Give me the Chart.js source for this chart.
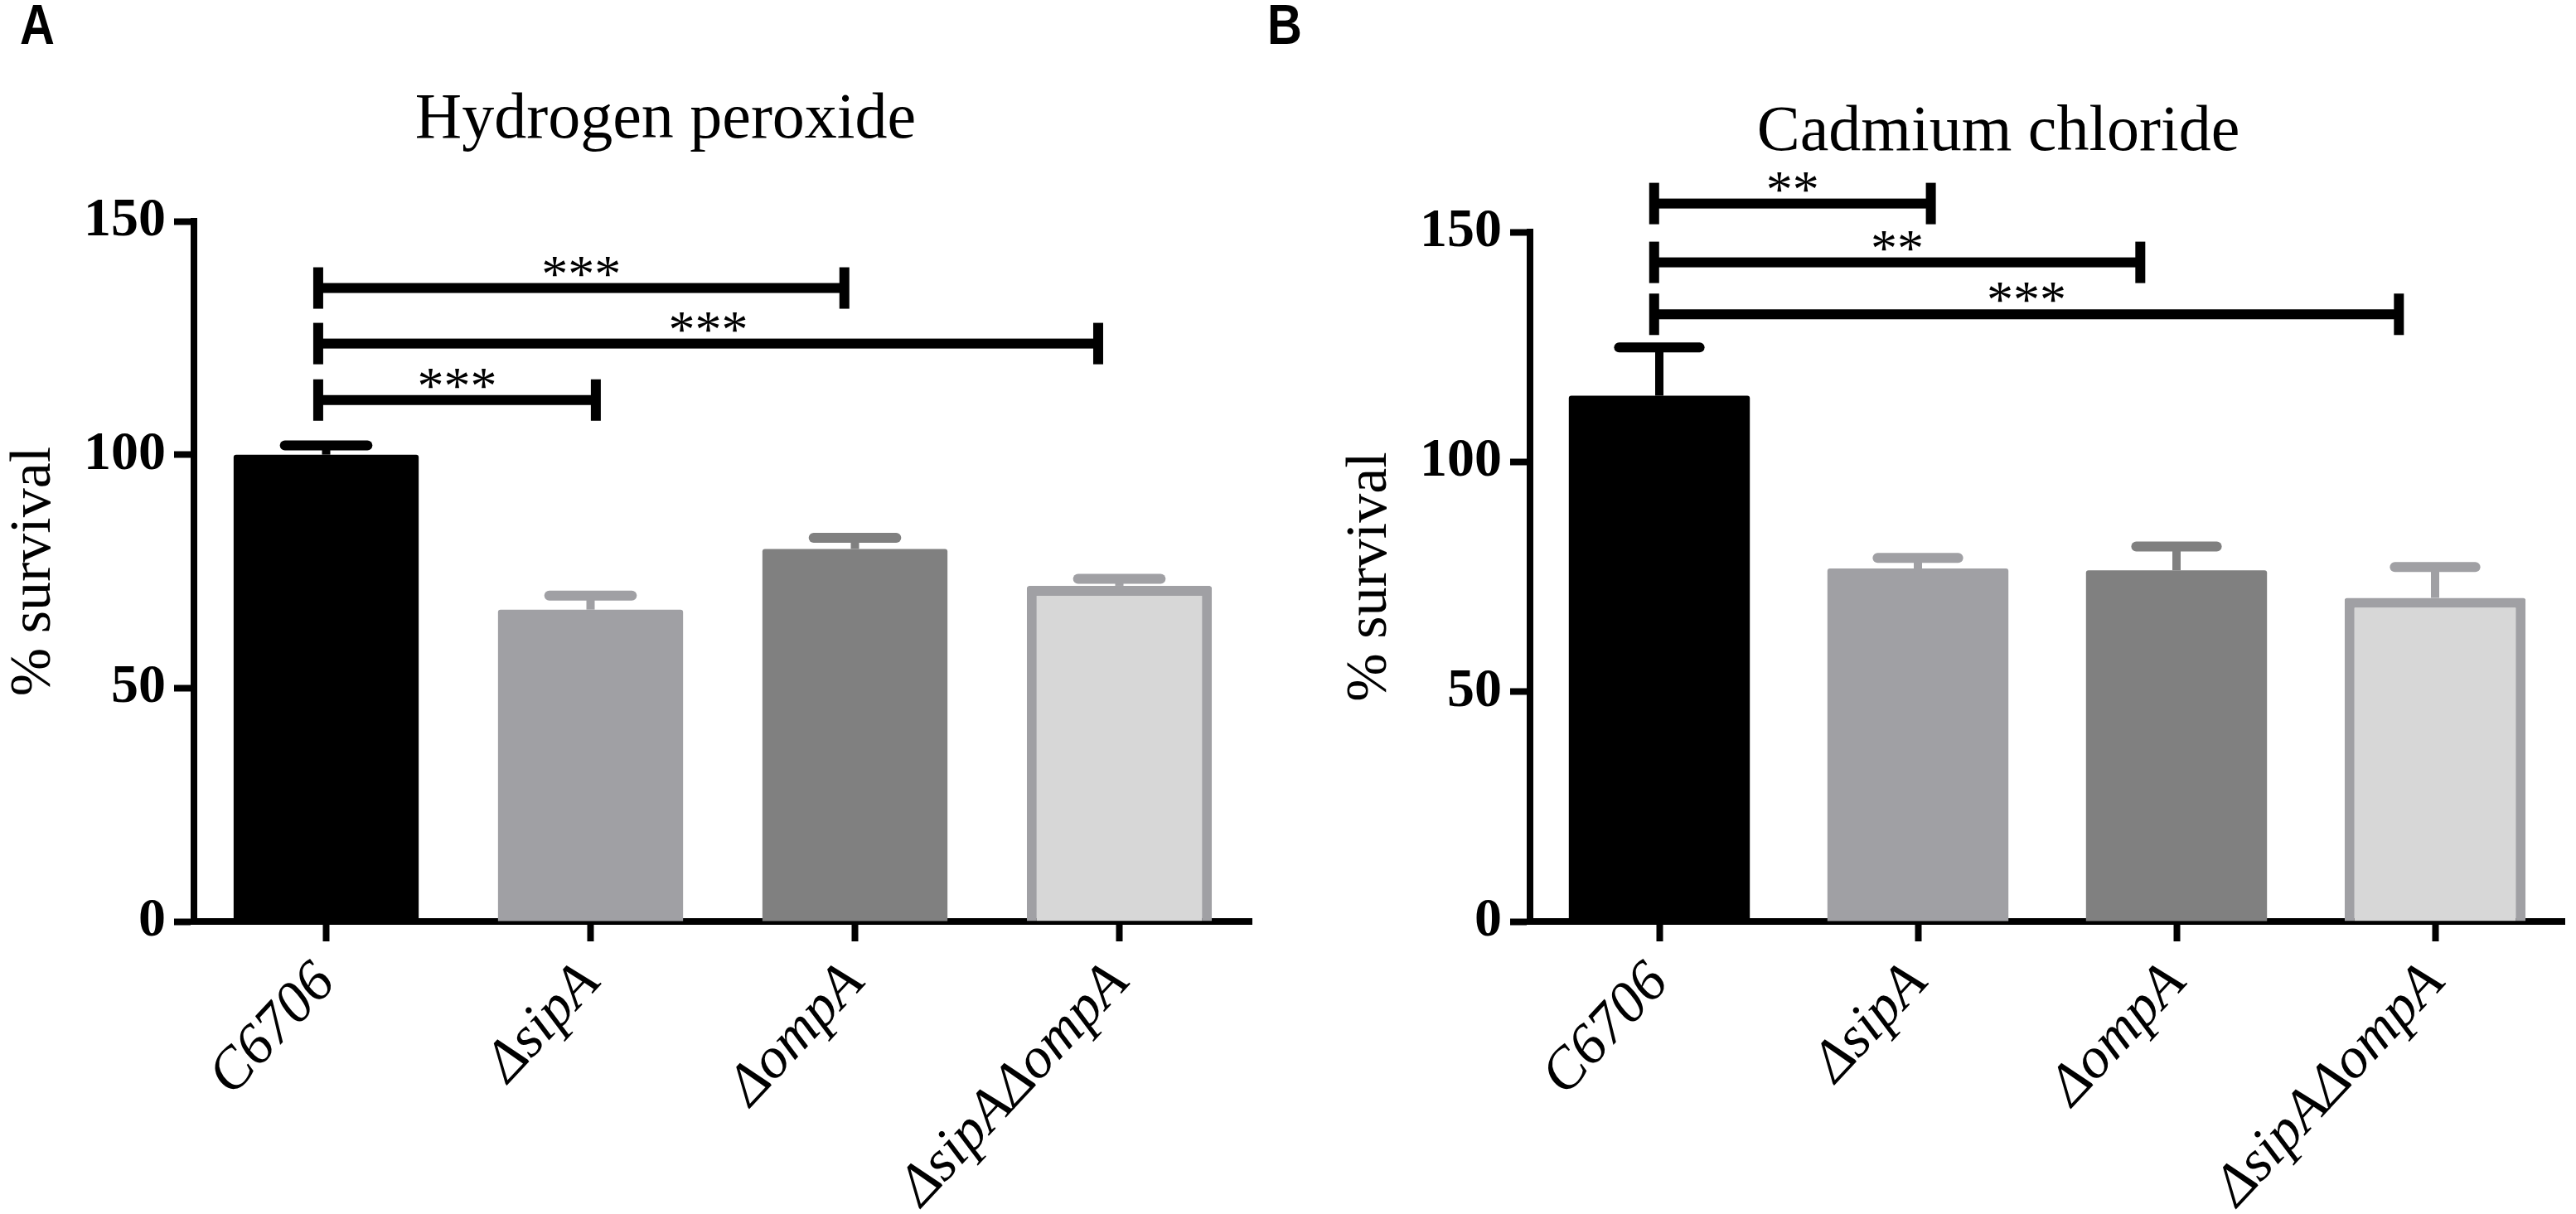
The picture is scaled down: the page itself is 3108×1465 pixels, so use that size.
<!DOCTYPE html>
<html>
<head>
<meta charset="utf-8">
<script src="https://cdn.jsdelivr.net/npm/chart.js@4.4.0/dist/chart.umd.min.js"></script>
<style>
    body { margin: 0; width: 3108px; height: 1465px; overflow: hidden; background: #fff; position: relative; }
    .panel { position: absolute; top: 0; height: 1465px; }
    .tag { position: absolute; font: bold 58px "Liberation Sans", Arial, sans-serif; line-height: 1; transform: scaleY(1.18); transform-origin: top left; }
    .heading { position: absolute; width: 1000px; text-align: center; font: 78px "Liberation Serif", "Times New Roman", serif; line-height: 1; }
</style>
</head>
<body>

<div class="tag" style="left:24px; top:-5px;">A</div>
<div class="tag" style="left:1529px; top:-5px;">B</div>

<div class="heading" style="left:303px; top:101px;">Hydrogen peroxide</div>
<div class="heading" style="left:1911px; top:116px;">Cadmium chloride</div>

<div class="panel" style="left:0; width:1554px;"><canvas id="chartA"></canvas></div>
<div class="panel" style="left:1612px; width:1496px;"><canvas id="chartB"></canvas></div>

<script>
// =============================
// Data
// =============================

const strains = ["C6706", "ΔsipA", "ΔompA", "ΔsipAΔompA"];
const yTicks = [0, 50, 100, 150];

const peroxideMean = [100, 66.8, 79.8, 71.9];
const peroxideErr = [2, 3, 2.4, 1.5];

const cadmiumMean = [114.4, 76.8, 76.4, 70.4];
const cadmiumErr = [10.5, 2.3, 5.2, 6.7];

// significance brackets: x in category units, y in % survival
const peroxideSigFrom = [-0.03, -0.03, -0.03];
const peroxideSigTo = [1.96, 2.92, 1.02];
const peroxideSigY = [135.7, 123.8, 111.7];
const peroxideSigText = ["***", "***", "***"];

const cadmiumSigFrom = [-0.02, -0.02, -0.02];
const cadmiumSigTo = [1.05, 1.86, 2.86];
const cadmiumSigY = [156.2, 143.4, 132.1];
const cadmiumSigText = ["**", "**", "***"];

// styles
const fillColors = ["#000000", "#a0a0a4", "#808080", "#d7d7d7"];
const edgeColors = ["#000000", "#a0a0a4", "#808080", "#a0a0a4"];
const edgeWidths = [0, 0, 0, 12];
const serif = "'Liberation Serif', 'Times New Roman', serif";


// =============================
// Plugins
// =============================

function errorBars(mean, err) {

    return {
        id: "errorBars",
        afterDatasetsDraw(chart) {
            const ctx = chart.ctx;
            const yScale = chart.scales.y;
            const meta = chart.getDatasetMeta(0);

            ctx.save();
            meta.data.forEach((bar, i) => {
                const top = yScale.getPixelForValue(mean[i] + err[i]);
                const half = bar.width / 4 - 6;

                ctx.strokeStyle = edgeColors[i];
                ctx.lineWidth = 10;
                ctx.lineCap = "butt";
                ctx.beginPath();
                ctx.moveTo(bar.x, bar.y);
                ctx.lineTo(bar.x, top);
                ctx.stroke();

                ctx.lineWidth = 12;
                ctx.lineCap = "round";
                ctx.beginPath();
                ctx.moveTo(bar.x - half, top);
                ctx.lineTo(bar.x + half, top);
                ctx.stroke();
            });
            ctx.restore();
        }
    };

}

function brackets(from, to, level, text) {

    return {
        id: "brackets",
        afterDraw(chart) {
            const ctx = chart.ctx;
            const xs = chart.scales.x;
            const ys = chart.scales.y;

            ctx.save();
            ctx.fillStyle = "#000";
            ctx.font = "64px " + serif;
            ctx.textAlign = "center";
            ctx.textBaseline = "alphabetic";

            from.forEach((f, i) => {
                const x1 = xs.getPixelForValue(f);
                const x2 = xs.getPixelForValue(to[i]);
                const y = ys.getPixelForValue(level[i]);

                ctx.fillRect(x1, y - 6, x2 - x1, 12);
                ctx.fillRect(x1 - 6, y - 25, 12, 50);
                ctx.fillRect(x2 - 6, y - 25, 12, 50);
                ctx.fillText(text[i], (x1 + x2) / 2, y + 4);
            });
            ctx.restore();
        }
    };

}


// =============================
// Chart builder
// =============================

function buildChart(id, mean, err, sig, topPad, rightPad) {

    return new Chart(document.getElementById(id), {

        type: "bar",

        data: {
            labels: strains,
            datasets: [{
                data: mean,
                backgroundColor: fillColors,
                borderColor: edgeColors,
                borderWidth: edgeWidths,
                borderRadius: 3,
                borderSkipped: "bottom",
                barPercentage: 0.7,
                categoryPercentage: 1
            }]
        },

        options: {
            responsive: true,
            maintainAspectRatio: false,
            animation: false,
            layout: {
                padding: { top: topPad, right: rightPad, left: 0, bottom: 0 }
            },
            plugins: {
                legend: { display: false },
                tooltip: { enabled: false },
                title: { display: false }
            },
            scales: {
                x: {
                    offset: true,
                    grid: {
                        display: true,
                        drawOnChartArea: false,
                        offset: false,
                        tickLength: 24,
                        tickWidth: 8,
                        tickColor: "#000"
                    },
                    border: { display: true, color: "#000", width: 8 },
                    ticks: {
                        color: "#000",
                        autoSkip: false,
                        minRotation: 47,
                        maxRotation: 47,
                        padding: 10,
                        font: { family: serif, style: "italic", size: 70 }
                    },
                    afterFit: (s) => { s.height = 353; }
                },
                y: {
                    min: 0,
                    max: 150,
                    afterBuildTicks: (s) => { s.ticks = yTicks.map(v => ({ value: v })); },
                    grid: {
                        drawOnChartArea: false,
                        tickLength: 24,
                        tickWidth: 8,
                        tickColor: "#000"
                    },
                    border: { display: true, color: "#000", width: 8 },
                    ticks: {
                        color: "#000",
                        padding: 10,
                        font: { family: serif, weight: "bold", size: 66 }
                    },
                    title: {
                        display: true,
                        text: "% survival",
                        color: "#000",
                        padding: 0,
                        font: { family: serif, size: 70 }
                    },
                    afterFit: (s) => { s.width = 234; }
                }
            }
        },

        plugins: [errorBars(mean, err), sig]

    });

}

buildChart("chartA", peroxideMean, peroxideErr,
    brackets(peroxideSigFrom, peroxideSigTo, peroxideSigY, peroxideSigText), 267, 44);

buildChart("chartB", cadmiumMean, cadmiumErr,
    brackets(cadmiumSigFrom, cadmiumSigTo, cadmiumSigY, cadmiumSigText), 280, 14);
</script>
</body>
</html>
